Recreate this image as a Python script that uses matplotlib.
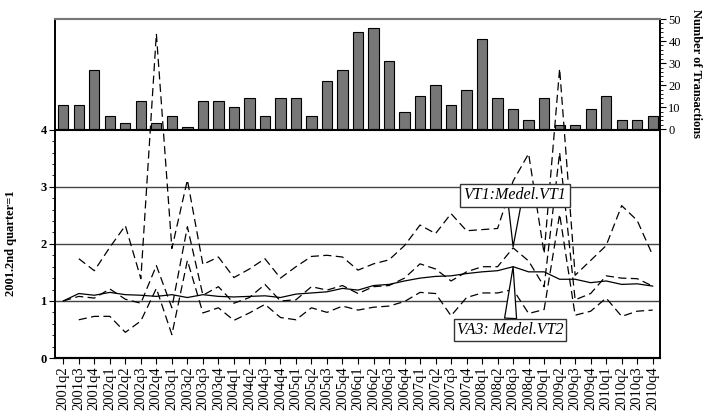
import numpy as np
import matplotlib.pyplot as plt
from matplotlib.ticker import FixedLocator

plt.rcParams['font.family'] = ['Liberation Serif', 'DejaVu Serif']

# ---------------------------------------------------------------------------
# data
# ---------------------------------------------------------------------------
QUARTERS = ['2001q2', '2001q3', '2001q4',
            '2002q1', '2002q2', '2002q3', '2002q4',
            '2003q1', '2003q2', '2003q3', '2003q4',
            '2004q1', '2004q2', '2004q3', '2004q4',
            '2005q1', '2005q2', '2005q3', '2005q4',
            '2006q1', '2006q2', '2006q3', '2006q4',
            '2007q1', '2007q2', '2007q3', '2007q4',
            '2008q1', '2008q2', '2008q3', '2008q4',
            '2009q1', '2009q2', '2009q3', '2009q4',
            '2010q1', '2010q2', '2010q3', '2010q4']

TRANSACTIONS = [11, 11, 27, 6, 3, 13, 3, 6, 1, 13, 13, 10, 14, 6, 14,
                14, 6, 22, 27, 44, 46, 31, 8, 15, 20, 11, 18, 41, 14, 9,
                4, 14, 2, 2, 9, 15, 4, 4, 6]

# main index (solid line)
INDEX_VT2 = [1.00, 1.13, 1.10, 1.15, 1.11, 1.10, 1.08, 1.11, 1.06, 1.11,
             1.08, 1.07, 1.08, 1.09, 1.06, 1.12, 1.14, 1.16, 1.22, 1.19,
             1.27, 1.29, 1.35, 1.40, 1.43, 1.44, 1.48, 1.51, 1.53, 1.60,
             1.51, 1.51, 1.38, 1.38, 1.32, 1.35, 1.29, 1.30, 1.26]

# second index (dashed, near the solid one)
INDEX_VT1 = [1.00, 1.08, 1.05, 1.21, 1.03, 0.96, 1.62, 0.88, 2.30, 1.10,
             1.25, 0.96, 1.06, 1.29, 1.00, 1.02, 1.25, 1.19, 1.27, 1.13,
             1.25, 1.27, 1.40, 1.65, 1.56, 1.35, 1.51, 1.60, 1.60, 1.93,
             1.70, 1.25, 3.60, 1.02, 1.13, 1.44, 1.40, 1.39, 1.26]

# upper / lower bands (dashed)
UPPER = [np.nan, 1.74, 1.53, 1.94, 2.32, 1.39, 5.68, 1.92, 3.12, 1.64,
         1.77, 1.41, 1.56, 1.74, 1.40, 1.60, 1.78, 1.80, 1.77, 1.54,
         1.65, 1.72, 1.97, 2.33, 2.18, 2.53, 2.23, 2.25, 2.27, 3.10,
         3.58, 1.83, 5.07, 1.45, 1.71, 1.97, 2.67, 2.41, 1.80]

LOWER = [np.nan, 0.67, 0.73, 0.73, 0.45, 0.65, 1.22, 0.41, 1.71, 0.79,
         0.88, 0.66, 0.79, 0.94, 0.71, 0.67, 0.88, 0.80, 0.91, 0.84,
         0.89, 0.91, 0.99, 1.15, 1.13, 0.74, 1.06, 1.14, 1.14, 1.20,
         0.78, 0.85, 2.52, 0.75, 0.82, 1.05, 0.73, 0.82, 0.84]

x = np.arange(len(QUARTERS))

# ---------------------------------------------------------------------------
# figure
# ---------------------------------------------------------------------------
fig = plt.figure(figsize=(7.07, 4.18), dpi=100)
ax = fig.add_axes([0.0778, 0.1435, 0.8557, 0.811])
ax2 = ax.twinx()

# bars on the right-hand scale (top strip)
ax2.bar(x, TRANSACTIONS, width=0.66, color='#777777', edgecolor='black',
        linewidth=0.8, zorder=2)
ax2.set_ylim(-103.7, 50)
ax2.yaxis.set_major_locator(FixedLocator([0, 10, 20, 30, 40, 50]))
ax2.yaxis.set_minor_locator(FixedLocator(np.arange(0, 51, 2)))
ax2.tick_params(axis='y', which='major', direction='out', length=4,
                labelsize=9, pad=2)
ax2.tick_params(axis='y', which='minor', direction='out', length=2)
ax2.set_ylabel('Number of Transactions', rotation=270, fontsize=9,
               fontweight='bold')
ax2.yaxis.set_label_coords(1.07, 0.838)

# lines on the left-hand scale, drawn above the bars
ax.set_zorder(ax2.get_zorder() + 1)
ax.patch.set_visible(False)

for k in (1, 2, 3):
    ax.axhline(k, color='#444444', lw=1.0, zorder=1)
ax.axhline(4, color='black', lw=1.5, zorder=1)

dash = dict(color='black', lw=0.9, dashes=(6.5, 3.5))
ax.plot(x, UPPER, **dash, zorder=3)
ax.plot(x, LOWER, **dash, zorder=3)
ax.plot(x, INDEX_VT1, **dash, zorder=3)
ax.plot(x, INDEX_VT2, color='black', lw=0.9, zorder=4)

ax.set_xlim(-0.535, 38.47)
ax.set_ylim(0, 5.94)
ax.yaxis.set_major_locator(FixedLocator([0, 1, 2, 3, 4]))
ax.yaxis.set_minor_locator(FixedLocator(np.arange(0, 4.01, 0.2)))
ax.set_yticklabels(['0', '1', '2', '3', '4'], fontweight='bold')
ax.tick_params(axis='y', which='major', direction='out', length=4,
               labelsize=9, pad=2)
ax.tick_params(axis='y', which='minor', direction='out', length=2)
ax.set_ylabel('2001.2nd quarter=1', fontsize=9, fontweight='bold')
ax.yaxis.set_label_coords(-0.063, 0.34)

ax.set_xticks(x)
ax.set_xticklabels(QUARTERS, rotation=90, fontsize=10.5)
ax.tick_params(axis='x', direction='out', length=4, pad=2)

for a in (ax, ax2):
    a.spines['top'].set_color('#777777')
    a.spines['top'].set_linewidth(1.5)
    a.spines['left'].set_linewidth(1.2)
    a.spines['right'].set_linewidth(1.2)
    a.spines['bottom'].set_linewidth(1.5)

# callouts
box = dict(boxstyle='square,pad=0.2', fc='white', ec='#333333', lw=1.0)
wedge = dict(arrowstyle='wedge,tail_width=0.75', fc='white', ec='black',
             lw=0.9, shrinkA=0, shrinkB=0)
ax.annotate('VT1:Medel.VT1', xy=(29, 1.95), xytext=(29.12, 2.85),
            textcoords='data', ha='center', va='center', fontsize=11.5,
            style='italic', bbox=box, arrowprops=wedge, zorder=6)
ax.annotate('VA3: Medel.VT2', xy=(29, 1.60), xytext=(28.8, 0.49),
            textcoords='data', ha='center', va='center', fontsize=11.5,
            style='italic', bbox=box, arrowprops=wedge, zorder=6)

fig.savefig('out.png', dpi=100)
